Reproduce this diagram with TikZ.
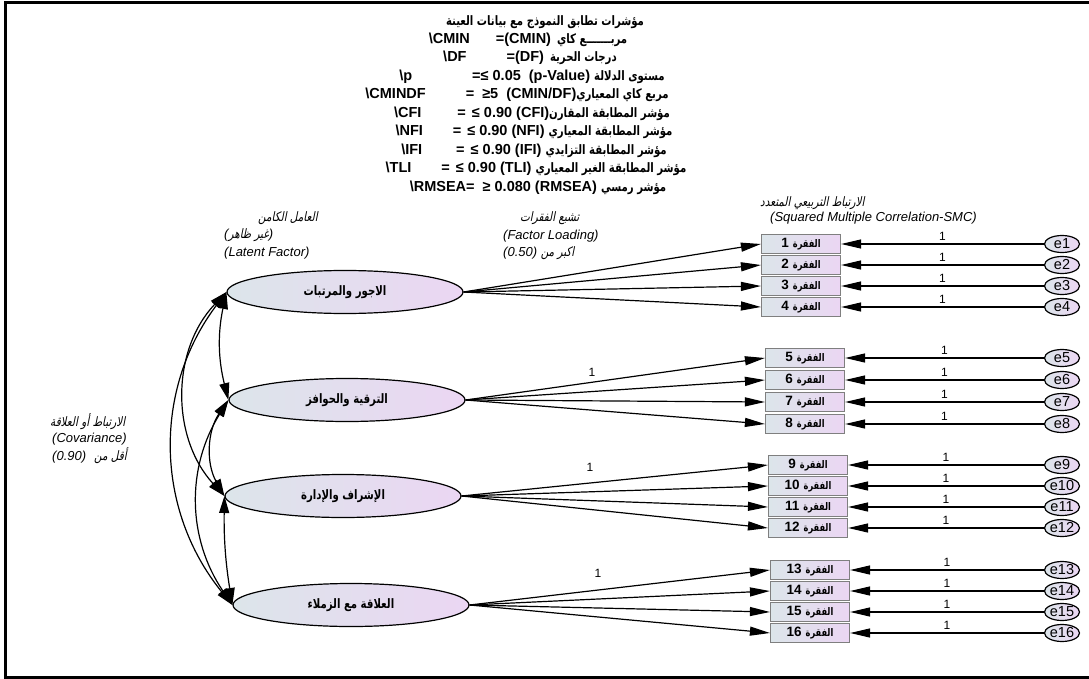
\documentclass[tikz,border=0pt]{standalone}
\usepackage{fontspec}
\setmainfont{Liberation Sans}
\newfontfamily\ar[Script=Arabic,FakeStretch=0.78,BoldFont={DejaVu Sans Bold},BoldFeatures={FakeStretch=0.78}]{DejaVu Sans}
\newfontfamily\arit[Script=Arabic,FakeSlant=0.2,FakeStretch=0.8]{DejaVu Sans}
\TeXXeTstate=1
\usetikzlibrary{shapes.geometric,arrows.meta}
\definecolor{gL}{HTML}{DCE5EA}
\definecolor{gR}{HTML}{EBD6F3}
\definecolor{bx}{HTML}{7F7F7F}
\newcommand{\AR}[1]{{\ar\bfseries\fontsize{13}{15}\selectfont\beginR #1\endR}}
\newcommand{\ARI}[1]{{\arit\upshape\mdseries\beginR #1\endR}}
\newcommand{\itm}[1]{{\bfseries\fontsize{13.5}{13}\selectfont #1}\hspace{4pt}{\ar\bfseries\fontsize{10.5}{10}\selectfont الفقرة}}
\tikzset{
 latent/.style={ellipse, draw, line width=1.2pt, minimum width=236pt, minimum height=43pt, inner sep=0pt, left color=gL, right color=gR, font=\ar\bfseries\fontsize{13}{14}\selectfont},
 item/.style={rectangle, draw=bx, line width=1.2pt, minimum width=79pt, minimum height=19pt, inner sep=0pt, left color=gL, right color=gR},
 err/.style={ellipse, draw, line width=1.2pt, minimum width=35pt, minimum height=17pt, inner sep=0pt, left color=gL, right color=gR, font=\fontsize{14.5}{14}\selectfont},
 arr/.style={line width=1.2pt, -{Triangle[length=20pt,width=9pt]}},
 cov/.style={line width=1.2pt, {Triangle[length=17pt,width=10pt]}-{Triangle[length=17pt,width=10pt]}},
 hdr/.style={font=\bfseries\fontsize{14.5}{16}\selectfont, inner sep=0pt},
 lab/.style={font=\itshape\fontsize{13}{15}\selectfont, inner sep=0pt, anchor=west},
 one/.style={font=\fontsize{12}{12}\selectfont, inner sep=0pt},
}
\begin{document}
\begin{tikzpicture}[x=1pt,y=-1pt]
\useasboundingbox (0,0) rectangle (1089,679);
\fill[white] (0,0) rectangle (1089,679);
% frame
\draw[line width=3pt] (1095,3) -- (5,3) -- (5,677) -- (1095,677);
% header
\node[hdr] (h1) at (545,22) {\AR{مؤشرات تطابق النموذج مع بيانات العينة}};
\node[hdr] (h2) at (528,40) {\textbackslash CMIN\hspace{26pt}=(CMIN)\hspace{6pt}\AR{مربـــــــع كاي}};
\node[hdr] (h3) at (530,58) {\textbackslash DF\hspace{40pt}=(DF)\hspace{6pt}\AR{درجات الحرية}};
\node[hdr] (h4) at (532,77) {\textbackslash p\hspace{60pt}=≤ 0.05\hspace{8pt}(p-Value)\hspace{4pt}\AR{مستوى الدلالة}};
\node[hdr] (h5) at (517,95) {\textbackslash CMINDF\hspace{40pt}=\hspace{8pt}≥5\hspace{8pt}(CMIN/DF)\AR{مربع كاي المعياري}};
\node[hdr] (h6) at (532,114) {\textbackslash CFI\hspace{36pt}=\hspace{6pt}≤ 0.90 (CFI)\AR{مؤشر المطابقة المقارن}};
\node[hdr] (h7) at (534,132) {\textbackslash NFI\hspace{30pt}=\hspace{6pt}≤ 0.90 (NFI) \AR{مؤشر المطابقة المعياري}};
\node[hdr] (h8) at (534,151) {\textbackslash IFI\hspace{34pt}=\hspace{6pt}≤ 0.90 (IFI) \AR{مؤشر المطابقة التزايدي}};
\node[hdr] (h9) at (536,169) {\textbackslash TLI\hspace{30pt}=\hspace{6pt}≤ 0.90 (TLI) \AR{مؤشر المطابقة الغير المعياري}};
\node[hdr] (h10) at (538,188) {\textbackslash RMSEA= \hspace{4pt}≥ 0.080 (RMSEA) \AR{مؤشر رمسي}};
% labels
\node[lab] (l1) at (258,218) {\ARI{العامل الكامن}};
\node[lab] (l2) at (224,235) {(\ARI{غير ظاهر})};
\node[lab] (l3) at (224,253) {(Latent Factor)};
\node[lab] (l4) at (520,218) {\ARI{تشبع الفقرات}};
\node[lab] (l5) at (503,236) {(Factor Loading)};
\node[lab] (l6) at (503,253) {(0.50) \ARI{اكبر من}};
\node[lab] (l7) at (760,203) {\ARI{الارتباط التربيعي المتعدد}};
\node[lab] (l8) at (770,218) {(Squared Multiple Correlation-SMC)};
\node[lab] (l9) at (50,422) {\ARI{الارتباط أو العلاقة}};
\node[lab] (l10) at (52,439) {(Covariance)};
\node[lab] (l11) at (52,456) {(0.90)\hspace{8pt}\ARI{أقل من}};
% latent factors
\node[latent] (F1) at (345,292) {\AR{الاجور والمرتبات}};
\node[latent] (F2) at (347,400) {\AR{الترقية والحوافز}};
\node[latent] (F3) at (343,496) {\AR{الإشراف والإدارة}};
\node[latent] (F4) at (351,605) {\AR{العلاقة مع الزملاء}};
% items and errors
\foreach \i/\x/\y/\f in {1/801/244/1,2/801/265/1,3/801/286/1,4/801/307/1,
                         5/805/358/2,6/805/380/2,7/805/402/2,8/805/424/2,
                         9/808/465/3,10/808/486/3,11/808/507/3,12/808/528/3,
                         13/810/570/4,14/810/591/4,15/810/612/4,16/810/633/4}{
  \node[item] (I\i) at (\x,\y) {\itm{\i}};
  \node[err] (e\i) at (1062,\y) {e\i};
  \draw[arr] (e\i) -- node[one, above=3pt] {1} (I\i);
  \draw[arr] (F\f.east) -- (I\i.west);
}
% loading labels
\node[one] (o2) at (592,372) {1};
\node[one] (o3) at (590,467) {1};
\node[one] (o4) at (598,573) {1};
% covariances
\draw[cov] (F1.west) to[bend right=13] (F2.west);
\draw[cov] (F1.west) to[bend right=43] (F3.west);
\draw[cov] (F1.west) to[bend right=38] (F4.west);
\draw[cov] (F2.west) to[bend right=32] (F3.west);
\draw[cov] (F2.west) to[bend right=33] (F4.west);
\draw[cov] (F3.west) to[bend right=5] (F4.west);
\end{tikzpicture}
\end{document}
